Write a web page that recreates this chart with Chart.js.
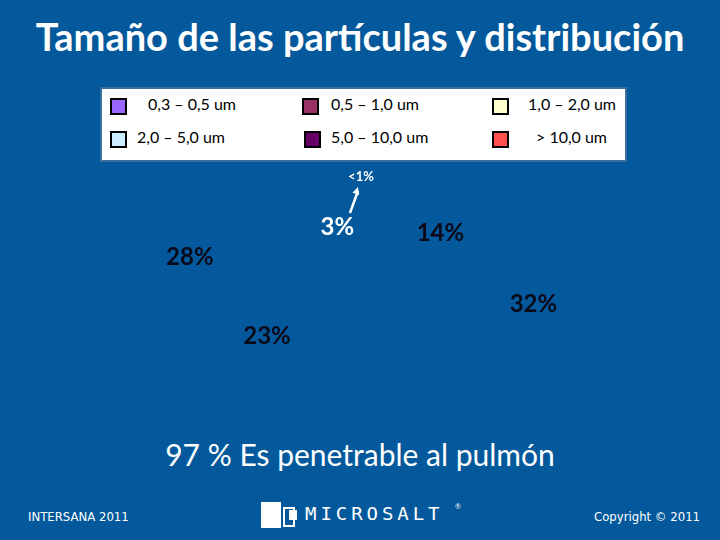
<!DOCTYPE html>
<html><head><meta charset="utf-8">
<script src="https://cdn.jsdelivr.net/npm/chart.js@4"></script>
<style>
html,body{margin:0;padding:0;}
body{width:720px;height:540px;background:#03599b;position:relative;overflow:hidden;font-family:Lato,"Open Sans",sans-serif;color:#fff;}
#title{position:absolute;left:0;top:13px;width:720px;text-align:center;font-weight:bold;font-size:38px;}
#legend{position:absolute;left:100px;top:87px;width:523px;height:71px;background:#fff;border:2px solid #3c6e9e;z-index:2;}
.li{position:absolute;font-size:16px;color:#000;white-space:nowrap;}
.sw{position:absolute;width:13px;height:13px;border:2px solid #000;}
#wrap{position:absolute;left:145px;top:75px;width:420px;height:420px;z-index:1;}
#note{position:absolute;left:0;top:436px;width:720px;text-align:center;font-size:30px;box-sizing:border-box;}
.foot{position:absolute;top:509px;font-family:"Liberation Sans Narrow","DejaVu Sans Condensed",sans-serif;font-size:13px;}
#logo{position:absolute;left:261px;top:502px;}
#logo .a{position:absolute;left:0;top:0;width:20px;height:26px;background:#fff;}
#logo .b{position:absolute;left:22px;top:5px;width:8px;height:16px;border:2px solid #fff;}
#logo .c{position:absolute;left:28px;top:8px;width:8px;height:10px;background:#fff;}
#logo .t{position:absolute;left:44px;top:2px;font-family:"DejaVu Sans Mono",monospace;font-size:17px;letter-spacing:3.5px;transform:scaleX(1.12);transform-origin:left;}
#logo .r{position:absolute;left:194px;top:0px;font-size:7px;}
</style></head>
<body>
<div id="title">Tamaño de las partículas y distribución</div>
<div id="legend"></div>
<div id="wrap"><canvas id="c" width="420" height="420"></canvas></div>
<div id="note">97 % Es penetrable al pulmón</div>
<div class="foot" style="left:28px;">INTERSANA 2011</div>
<div class="foot" style="left:594px;">Copyright © 2011</div>
<div id="logo"><div class="a"></div><div class="b"></div><div class="c"></div><div class="t">MICROSALT</div><div class="r">®</div></div>
<script>
// Legend categories (display order) and colours
const legendLabels = ['0,3 – 0,5 um','0,5 – 1,0 um','1,0 – 2,0 um','2,0 – 5,0 um','5,0 – 10,0 um','> 10,0 um'];
const legendColors = ['#9966ff','#993366','#ffffcc','#cceeff','#660066','#ff5050'];

// Pie slices, clockwise from 12 o'clock
const sliceLabels = ['> 10,0 um','2,0 – 5,0 um','1,0 – 2,0 um','0,5 – 1,0 um','0,3 – 0,5 um','5,0 – 10,0 um'];
const sliceValues = [0.5, 14, 32, 23, 28, 3];
const labelColors = ['#ffffff','#0a0a1a','#0a0a1a','#0a0a1a','#0a0a1a','#ffffff'];

// Build legend
const legPos = [[8,8,46],[200,8,229],[390,8,426],[8,41,35],[202,41,229],[390,41,434]];
const leg = document.getElementById('legend');
legendLabels.forEach((l,i)=>{
  const p = legPos[i];
  const s = document.createElement('div'); s.className='sw';
  s.style.left=p[0]+'px'; s.style.top=(p[1]+1)+'px'; s.style.background=legendColors[i];
  leg.appendChild(s);
  const t = document.createElement('div'); t.className='li';
  t.style.left=p[2]+'px'; t.style.top=(p[1]-3)+'px'; t.textContent=l;
  leg.appendChild(t);
});

const labelPlugin = {
  id:'pieLabels',
  afterDatasetsDraw(chart){
    const ctx = chart.ctx;
    const meta = chart.getDatasetMeta(0);
    meta.data.forEach((arc,i)=>{
      const v = sliceValues[i];
      const mid = (arc.startAngle+arc.endAngle)/2;
      const r = arc.outerRadius;
      const small = v < 1;
      const ky = small ? 0.6 : 0.32;
      const x = arc.x + r*Math.cos(mid)*1.05;
      const y = arc.y + r*Math.sin(mid)*ky;
      ctx.save();
      ctx.fillStyle = labelColors[i];
      ctx.textAlign='center'; ctx.textBaseline='middle';
      ctx.font = small ? 'bold 13px Lato, sans-serif' : 'bold 24px Lato, sans-serif';
      const txt = small ? '<1%' : v + '%';
      const lx = small ? x + 3 : x;
      ctx.fillText(txt, lx, y);
      if (small){
        ctx.strokeStyle='#fff'; ctx.lineWidth=2.5;
        const tx = lx-11, ty = y+36, hx = lx-3, hy = y+10;
        ctx.beginPath(); ctx.moveTo(tx,ty); ctx.lineTo(hx,hy+4); ctx.stroke();
        const ang = Math.atan2(hy-ty,hx-tx);
        ctx.beginPath();
        ctx.moveTo(hx,hy);
        ctx.lineTo(hx-8*Math.cos(ang-0.45), hy-8*Math.sin(ang-0.45));
        ctx.lineTo(hx-8*Math.cos(ang+0.45), hy-8*Math.sin(ang+0.45));
        ctx.closePath(); ctx.fillStyle='#fff'; ctx.fill();
      }
      ctx.restore();
    });
  }
};

new Chart(document.getElementById('c'),{
  type:'pie',
  data:{labels:sliceLabels,datasets:[{data:sliceValues,backgroundColor:'rgba(0,0,0,0)',borderWidth:0}]},
  options:{responsive:false,animation:false,
    plugins:{legend:{display:false},tooltip:{enabled:false}},
    layout:{padding:30}},
  plugins:[labelPlugin]
});
</script>
</body></html>
